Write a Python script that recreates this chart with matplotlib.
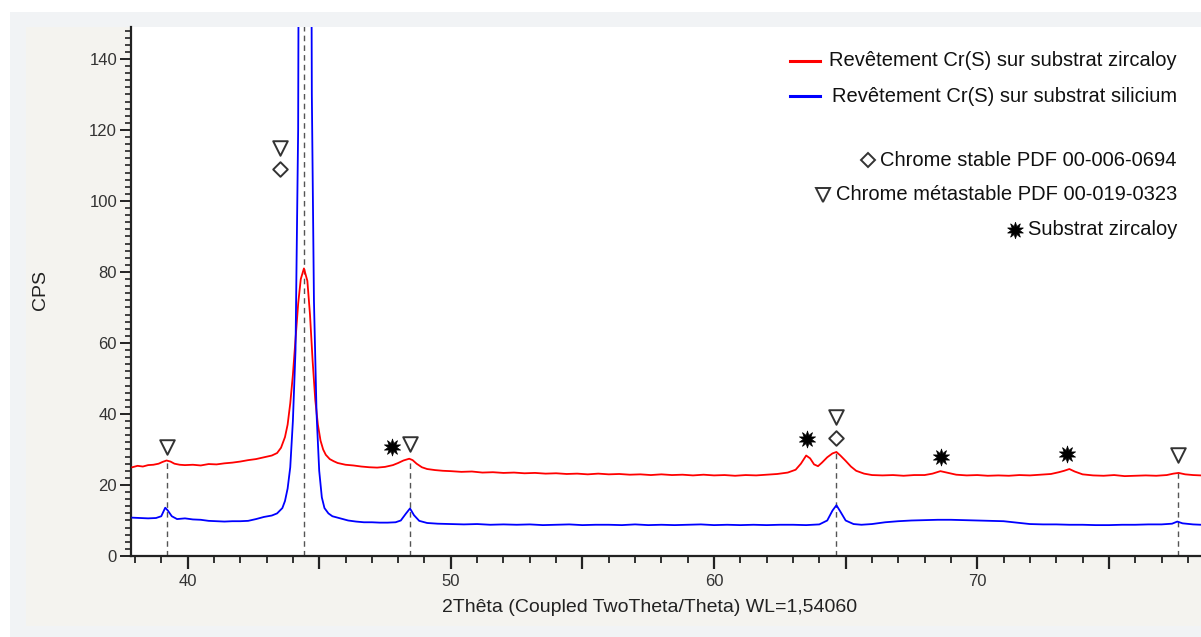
import numpy as np
import matplotlib
matplotlib.use("Agg")
import matplotlib.pyplot as plt
from matplotlib.patches import Rectangle
from matplotlib.lines import Line2D
from matplotlib.ticker import MultipleLocator, FuncFormatter

# ---------------- data ----------------
red_x = [37.9, 38.1, 38.3, 38.5, 38.7, 38.9, 39.05, 39.2, 39.35, 39.5, 39.7, 39.9,
         40.2, 40.5, 40.8, 41.1, 41.4, 41.7, 42.0, 42.3, 42.6, 42.9, 43.2, 43.4,
         43.55, 43.7, 43.8, 43.9, 44.0, 44.1, 44.2, 44.3, 44.42, 44.55, 44.65, 44.75,
         44.85, 44.95, 45.05, 45.15, 45.25, 45.4, 45.55, 45.7, 46.0, 46.3, 46.6, 46.9,
         47.2, 47.5, 47.8, 48.0, 48.2, 48.42, 48.55, 48.7, 48.9, 49.1, 49.4, 49.7,
         50.0, 50.4, 50.8, 51.2, 51.6, 52.0, 52.4, 52.8, 53.2, 53.6, 54.0, 54.4,
         54.8, 55.2, 55.6, 56.0, 56.4, 56.8, 57.2, 57.6, 58.0, 58.4, 58.8, 59.2,
         59.6, 60.0, 60.4, 60.8, 61.2, 61.6, 62.0, 62.4, 62.8, 63.1, 63.3, 63.5,
         63.65, 63.8, 63.95, 64.1, 64.3, 64.5, 64.65, 64.8, 65.0, 65.2, 65.4, 65.7,
         66.0, 66.4, 66.8, 67.2, 67.6, 68.0, 68.3, 68.6, 68.9, 69.2, 69.6, 70.0,
         70.4, 70.8, 71.2, 71.6, 72.0, 72.4, 72.8, 73.1, 73.3, 73.5, 73.7, 74.0,
         74.4, 74.8, 75.2, 75.6, 76.0, 76.4, 76.8, 77.2, 77.45, 77.65, 77.9, 78.2, 78.5]
red_y = [25.0, 25.4, 25.2, 25.6, 25.7, 26.0, 26.5, 26.9, 26.6, 26.0, 25.7, 25.6,
         25.7, 25.5, 25.9, 25.8, 26.1, 26.3, 26.6, 27.0, 27.3, 27.8, 28.3, 29.0,
         30.5, 33.5, 37.0, 43.0, 51.0, 61.0, 71.0, 78.0, 81.0, 77.5, 68.0, 55.0,
         44.0, 37.0, 32.5, 30.0, 28.5, 27.3, 26.7, 26.2, 25.7, 25.5, 25.2, 25.0,
         24.9, 25.1, 25.6, 26.2, 26.9, 27.4, 27.0, 26.0, 25.0, 24.5, 24.2, 24.0,
         23.9, 23.7, 23.8, 23.5, 23.6, 23.4, 23.5, 23.3, 23.4, 23.2, 23.3, 23.1,
         23.2, 23.0, 23.2, 23.0, 23.1, 22.9, 23.0, 22.8, 23.0, 22.8, 22.9, 22.7,
         22.9, 22.7, 22.8, 22.6, 22.8, 22.7, 22.9, 23.1, 23.5, 24.3, 26.0, 28.3,
         27.5, 25.8, 25.3, 26.3, 27.8, 28.9, 29.3, 28.3, 26.8, 25.2, 24.0, 23.2,
         22.8, 22.7, 22.8, 22.6, 22.8, 22.8, 23.2, 23.9, 23.4, 22.9, 22.7, 22.8,
         22.6, 22.7, 22.6, 22.8, 22.7, 22.9, 23.1, 23.6, 24.0, 24.5, 23.8, 23.0,
         22.7, 22.6, 22.8, 22.5, 22.6, 22.7, 22.6, 22.8, 23.2, 23.4, 23.0, 22.8, 22.7]

blue_x = [37.9, 38.2, 38.5, 38.8, 39.0, 39.15, 39.25, 39.4, 39.6, 39.9, 40.2, 40.5,
          40.8, 41.1, 41.4, 41.7, 42.0, 42.3, 42.6, 42.9, 43.2, 43.4, 43.6, 43.7,
          43.8, 43.9, 44.0, 44.1, 44.2, 44.27, 44.35, 44.45, 44.55, 44.65, 44.72,
          44.8, 44.9, 45.0, 45.1, 45.2, 45.35, 45.5, 45.8, 46.1, 46.4, 46.7, 47.0,
          47.3, 47.6, 47.9, 48.1, 48.3, 48.45, 48.6, 48.8, 49.1, 49.5, 50.0, 50.5,
          51.0, 51.5, 52.0, 52.5, 53.0, 53.5, 54.0, 54.5, 55.0, 55.5, 56.0, 56.5,
          57.0, 57.5, 58.0, 58.5, 59.0, 59.5, 60.0, 60.5, 61.0, 61.5, 62.0, 62.5,
          63.0, 63.5, 64.0, 64.3, 64.5, 64.65, 64.8, 65.0, 65.3, 65.6, 66.0, 66.5,
          67.0, 67.5, 68.0, 68.5, 69.0, 69.5, 70.0, 70.5, 71.0, 71.5, 72.0, 72.5,
          73.0, 73.5, 74.0, 74.5, 75.0, 75.5, 76.0, 76.5, 77.0, 77.4, 77.6, 77.8,
          78.2, 78.5]
blue_y = [10.8, 10.7, 10.6, 10.7, 11.2, 13.6, 12.8, 11.2, 10.4, 10.6, 10.3, 10.2,
          9.9, 9.8, 9.7, 9.8, 9.8, 9.9, 10.4, 11.0, 11.4, 12.0, 13.5, 15.5,
          19.0, 25.0, 38.0, 58.0, 120.0, 300.0, 900.0, 1500.0, 900.0, 300.0, 130.0,
          72.0, 40.0, 24.0, 16.5, 13.5, 12.0, 11.2, 10.6, 10.0, 9.7, 9.5, 9.5,
          9.4, 9.4, 9.5, 10.0, 12.0, 13.4, 11.5, 9.9, 9.3, 9.1, 9.0, 8.9,
          9.0, 8.8, 8.9, 8.8, 8.9, 8.7, 8.8, 8.9, 8.7, 8.8, 8.8, 8.7,
          8.9, 8.7, 8.8, 8.7, 8.8, 8.9, 8.7, 8.8, 8.7, 8.8, 8.7, 8.8,
          8.8, 8.7, 8.9, 10.0, 12.8, 14.3, 12.5, 10.0, 9.0, 8.8, 9.0, 9.5,
          9.8, 10.0, 10.1, 10.2, 10.2, 10.1, 10.0, 9.9, 9.8, 9.4, 9.0, 8.9,
          8.9, 8.8, 8.8, 8.7, 8.7, 8.8, 8.8, 8.9, 8.9, 9.1, 9.7, 9.2,
          8.9, 8.8]

ref_lines = [39.2, 44.43, 48.45, 64.63, 77.63]

diamond_x = [43.52, 64.63]
diamond_y = [109.0, 33.3]
triangle_x = [39.2, 43.52, 48.45, 64.63, 77.63]
triangle_y = [30.6, 115.0, 31.5, 39.2, 28.4]
star_x = [47.76, 63.52, 68.62, 73.42]
star_y = [30.8, 33.0, 28.0, 28.6]

series_labels = ["Revêtement Cr(S) sur substrat zircaloy",
                 "Revêtement Cr(S) sur substrat silicium"]
phase_labels = ["Chrome stable PDF 00-006-0694",
                "Chrome métastable PDF 00-019-0323",
                "Substrat zircaloy"]
x_label = "2Thêta (Coupled TwoTheta/Theta) WL=1,54060"
y_label = "CPS"

# ---------------- figure ----------------
W, H = 1201, 637
fig = plt.figure(figsize=(W / 100, H / 100), dpi=100, facecolor="white")


def fx(px):
    return px / W


def fy(py):
    return 1 - py / H


fig.patches.append(Rectangle((fx(10), 0), 1 - fx(10), fy(12), transform=fig.transFigure,
                             facecolor="#f1f3f5", edgecolor="none", zorder=-2))
fig.patches.append(Rectangle((fx(26), fy(626)), 1 - fx(26), fy(27) - fy(626),
                             transform=fig.transFigure, facecolor="#f4f3ef",
                             edgecolor="none", zorder=-1))

ax = fig.add_axes([fx(131), fy(556), 1 - fx(131), fy(27) - fy(556)])
ax.set_zorder(1)
ax.set_facecolor("white")
ax.set_xlim(37.85, 78.5)
ax.set_ylim(0, 149)

star_marker = (10, 1, 0)
diamond_style = dict(marker="D", facecolor="white", edgecolor="#333333", linewidths=1.4)
tri_style = dict(marker="v", facecolor="white", edgecolor="#333333", linewidths=1.4)
star_style = dict(marker=star_marker, facecolor="black", edgecolor="black", linewidths=0.5)

ax.plot(red_x, red_y, color="#ff0000", lw=1.3, zorder=3)
ax.plot(blue_x, blue_y, color="#0000ff", lw=1.3, zorder=3)

for xv in ref_lines:
    top = max(np.interp(xv, red_x, red_y), np.interp(xv, blue_x, blue_y))
    ax.plot([xv, xv], [0, top], color="#555555", lw=1.0, ls=(0, (4, 3)), zorder=2)

ax.scatter(diamond_x, diamond_y, s=55, zorder=5, **diamond_style)
ax.scatter(triangle_x, triangle_y, s=110, zorder=5, **tri_style)
ax.scatter(star_x, star_y, s=150, zorder=5, **star_style)

# axes styling
for s in ["top", "right"]:
    ax.spines[s].set_visible(False)
for s in ["left", "bottom"]:
    ax.spines[s].set_color("#222222")
    ax.spines[s].set_linewidth(1.6)

ax.xaxis.set_major_locator(MultipleLocator(5))
ax.xaxis.set_minor_locator(MultipleLocator(1))
ax.xaxis.set_major_formatter(FuncFormatter(lambda v, p: f"{v:.0f}" if round(v) % 10 == 0 else ""))
ax.yaxis.set_major_locator(MultipleLocator(20))
ax.yaxis.set_minor_locator(MultipleLocator(2))

ax.tick_params(axis="x", which="major", length=9, width=1.6, color="#222222",
               labelsize=12, labelcolor="#333333", pad=4)
ax.tick_params(axis="x", which="minor", length=5, width=1.3, color="#222222")
ax.tick_params(axis="y", which="major", length=8, width=1.4, color="#222222",
               labelsize=12, labelcolor="#333333", pad=2)
ax.tick_params(axis="y", which="minor", length=4, width=1.2, color="#222222")
for lab in ax.get_xticklabels() + ax.get_yticklabels():
    lab.set_fontfamily(["Liberation Sans", "DejaVu Sans"])

fig.text(fx(650), fy(607), x_label, ha="center", va="center", fontsize=14,
         color="#222222", family=["Liberation Sans", "DejaVu Sans"])
fig.text(fx(40), fy(290), y_label, ha="center", va="center", rotation=90, fontsize=14,
         color="#222222", family=["Liberation Sans", "DejaVu Sans"])

# legend (manual)
leg_font = ["Liberation Sans", "DejaVu Sans"]
text_right = fx(1177)
for lab, col, ypx in zip(series_labels, ["#ff0000", "#0000ff"], [61, 96]):
    fig.text(text_right, fy(ypx), lab, ha="right", va="center", fontsize=14.5,
             color="#111111", family=leg_font)
    fig.add_artist(Line2D([fx(790), fx(820)], [fy(ypx), fy(ypx)],
                          transform=fig.transFigure, color=col, lw=2.2))

phase_y = [160, 195, 230]
phase_texts = []
for lab, ypx in zip(phase_labels, phase_y):
    phase_texts.append(fig.text(text_right, fy(ypx), lab, ha="right", va="center",
                                fontsize=14.5, color="#111111", family=leg_font))

fig.canvas.draw()
renderer = fig.canvas.get_renderer()
leg_marker_styles = [(diamond_style, 7), (tri_style, 10), (star_style, 12)]
for t, (st, ms) in zip(phase_texts, leg_marker_styles):
    bb = t.get_window_extent(renderer)
    xm = (bb.x0 - 13) / W
    ym = (bb.y0 + bb.y1) / 2 / H
    fig.add_artist(Line2D([xm], [ym], transform=fig.transFigure, marker=st["marker"],
                          markersize=ms, markerfacecolor=st["facecolor"],
                          markeredgecolor=st["edgecolor"],
                          markeredgewidth=st["linewidths"], ls="none"))

fig.savefig("out.png", dpi=100, facecolor="white")
